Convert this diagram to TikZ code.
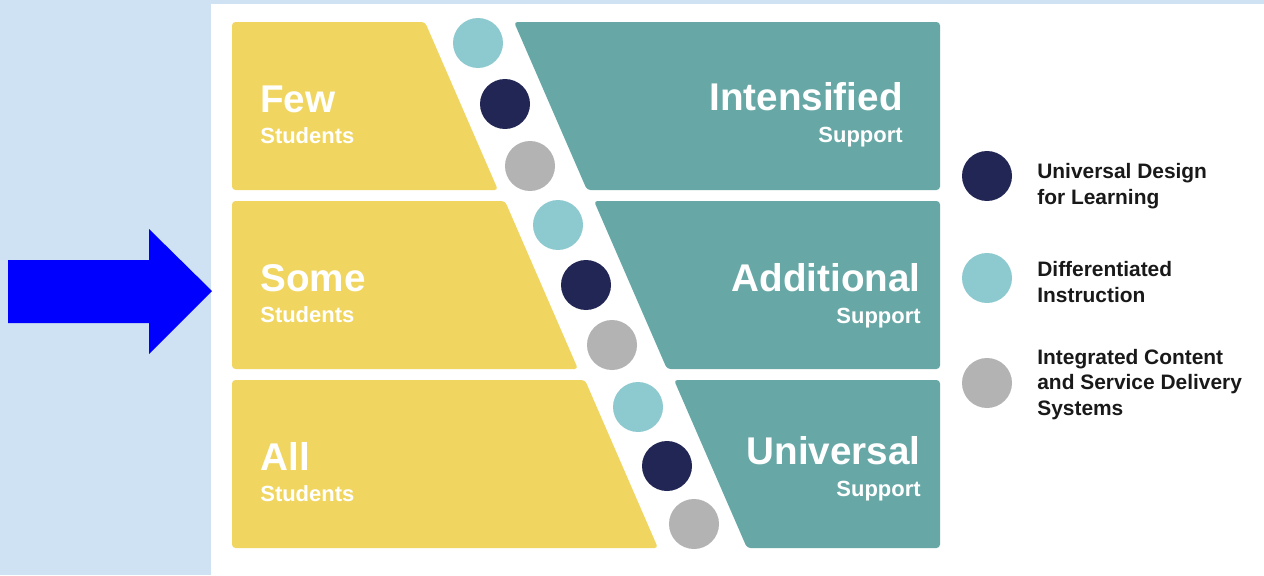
\documentclass[tikz,border=0pt]{standalone}
\usepackage{fontspec}
\setmainfont{Liberation Sans}
\usepackage{tikz}
\usepackage{xcolor}

\definecolor{bgblue}{HTML}{CFE2F3}
\definecolor{tieryellow}{HTML}{F0D660}
\definecolor{tierteal}{HTML}{67A8A6}
\definecolor{dilight}{HTML}{8DCAD0}
\definecolor{udlnavy}{HTML}{212654}
\definecolor{iscgray}{HTML}{B3B3B3}

\tikzset{
  tier/.style={rounded corners=2pt},
  dot/.style={circle,fill=#1,inner sep=0pt,minimum size=1cm},
  bigword/.style={text=white,font=\bfseries\fontsize{22}{26}\selectfont,inner sep=0pt},
  smallword/.style={text=white,font=\bfseries\fontsize{12.5}{15}\selectfont,inner sep=0pt},
  keytext/.style={font=\bfseries\fontsize{11.9}{14.4}\selectfont,align=left,inner sep=0pt,text=black!90}
}

\begin{document}
\begin{tikzpicture}[x=0.02cm,y=-0.02cm]
    \useasboundingbox (0,0) rectangle (1264,575);
    \fill[bgblue] (0,0) rectangle (1264,575);
    \fill[white] (211,4) rectangle (1264,575);
    \fill[blue] (8,260) -- (149,260) -- (149,229) -- (212,291)
        -- (149,354) -- (149,323) -- (8,323) -- cycle;
    % three tiers, each one shifted 80 to the right
    \foreach \i/\who/\what/\xr/\yb in {0/Few/Intensified/903/110,1/Some/Additional/921/291,2/All/Universal/921/464}{
        \pgfmathsetmacro{\t}{22+179*\i}
        \pgfmathsetmacro{\b}{190+179*\i}
        \fill[tier,tieryellow] (232,\t) -- (425+80*\i,\t) -- (498+80*\i,\b) -- (232,\b) -- cycle;
        \fill[tier,tierteal] (514+80*\i,\t) -- (940,\t) -- (940,\b) -- (587+80*\i,\b) -- cycle;
        \node[bigword,anchor=base west] (lvl\i) at (260,112+179*\i) {\who};
        \node[smallword,anchor=base west] (stu\i) at (260,143+179*\i) {Students};
        \node[bigword,anchor=base east] (sup\i) at (\xr,\yb) {\what};
        \node[smallword,anchor=base east] (sub\i) at (\xr,\yb+32) {Support};
        \node[dot=dilight] (di\i) at (478+80*\i,43+182*\i) {};
        \node[dot=udlnavy] (udl\i) at (505+81*\i,104+181*\i) {};
        \node[dot=iscgray] (isc\i) at (530+82*\i,166+179*\i) {};
    }
    % key (base is the last line)
    \node[dot=udlnavy] (keyudl) at (987,176) {};
    \node[dot=dilight] (keydi) at (987,278) {};
    \node[dot=iscgray] (keyisc) at (987,383) {};
    \node[keytext,anchor=base west] (txtudl) at (1037,204) {Universal Design\\for Learning};
    \node[keytext,anchor=base west] (txtdi) at (1037,302) {Differentiated\\Instruction};
    \node[keytext,anchor=base west] (txtisc) at (1037,415) {Integrated Content\\and Service Delivery\\Systems};
\end{tikzpicture}
\end{document}
